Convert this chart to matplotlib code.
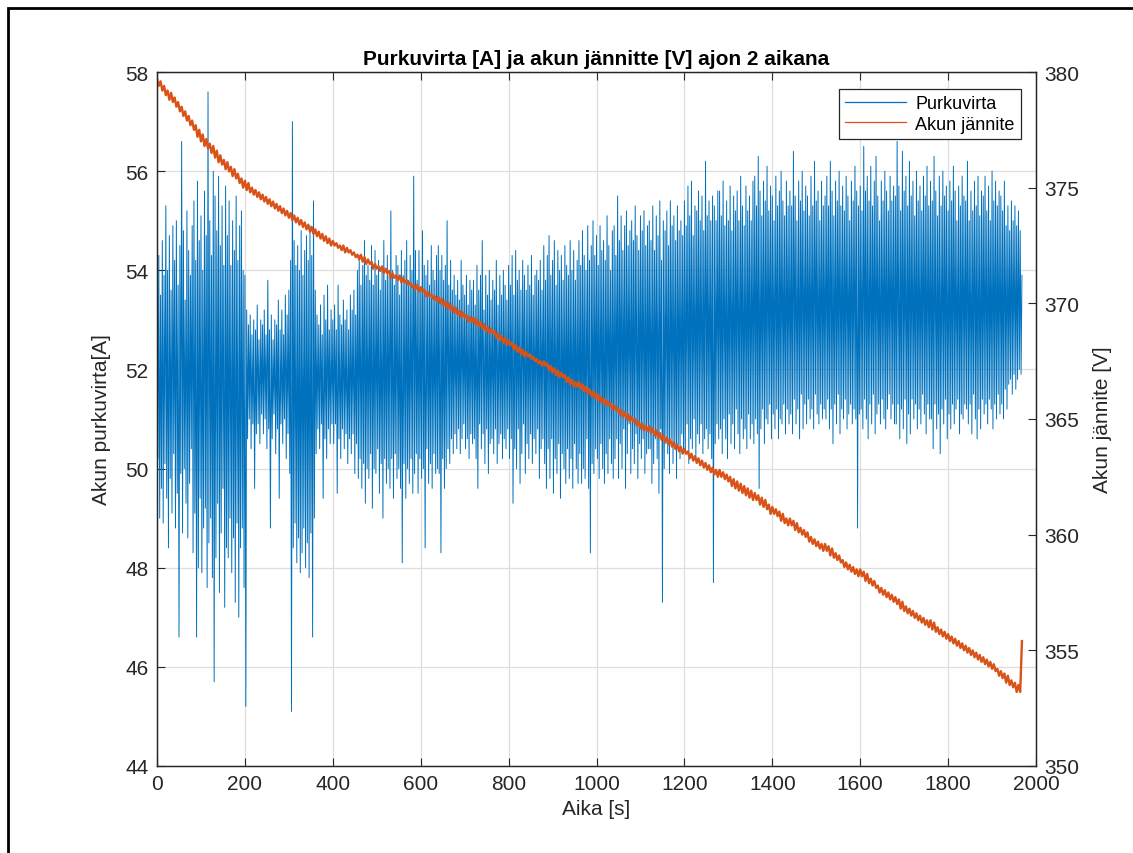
import numpy as np
import matplotlib.pyplot as plt
from matplotlib.patches import Rectangle

# current is logged every 2 s, voltage every 4 s
aika_virta = np.arange(0, 1970, 2)
aika_jannite = np.arange(0, 1972, 4)

# discharge current [A]
purkuvirta = [
    53.8, 50.2, 54.3, 49.0, 53.5, 49.6, 54.6, 48.9, 53.9, 50.1, 55.3, 49.4, 54.0, 48.4, 54.7, 49.8, 53.6, 49.1, 54.9, 50.3,
    54.2, 48.8, 55.0, 49.5, 53.7, 46.6, 54.5, 49.9, 56.6, 48.7, 54.8, 50.0, 53.4, 49.3, 55.2, 48.6, 54.4, 49.7, 53.9, 50.4,
    54.9, 48.3, 55.4, 49.1, 54.2, 46.6, 55.8, 48.0, 54.6, 49.4, 55.1, 47.9, 54.0, 48.8, 55.6, 49.2, 54.7, 47.6, 57.6, 48.5,
    55.0, 49.0, 54.3, 47.8, 56.0, 45.7, 55.5, 48.2, 54.8, 49.3, 55.9, 47.5, 54.5, 48.7, 55.3, 49.6, 54.1, 47.2, 55.7, 48.4,
    54.7, 48.2, 55.4, 49.0, 54.1, 47.9, 55.0, 48.6, 54.4, 47.3, 55.5, 48.9, 54.2, 47.0, 54.9, 48.4, 55.2, 48.8, 54.0, 47.6,
    53.9, 45.2, 53.2, 50.6, 52.9, 51.0, 53.1, 50.4, 52.7, 50.9, 53.0, 49.6, 52.8, 50.7, 53.3, 50.9, 52.6, 50.5, 53.0, 51.1,
    52.9, 50.7, 53.2, 51.0, 52.7, 50.4, 53.8, 50.8, 52.8, 48.8, 53.1, 50.6, 52.6, 51.1, 53.0, 50.3, 52.9, 50.8, 53.4, 49.4,
    52.8, 50.9, 53.2, 50.5, 52.7, 51.0, 53.5, 50.2, 53.1, 50.7, 53.6, 49.9, 54.2, 45.1, 57.0, 48.4, 54.6, 48.9, 54.1, 48.1,
    54.5, 48.6, 54.0, 47.9, 54.8, 48.3, 53.9, 48.8, 54.4, 48.0, 54.7, 48.5, 54.2, 47.8, 54.9, 48.7, 54.3, 46.6, 55.4, 49.0,
    53.6, 50.3, 53.1, 50.8, 52.9, 50.4, 53.3, 50.9, 52.7, 49.4, 53.5, 50.6, 53.0, 50.2, 53.7, 50.8, 52.8, 50.5, 53.2, 50.9,
    53.0, 50.5, 53.3, 50.9, 52.8, 49.5, 53.7, 50.6, 53.1, 50.2, 52.9, 50.8, 53.4, 50.4, 53.0, 50.7, 53.2, 50.1, 52.8, 50.6,
    53.5, 50.3, 53.2, 50.7, 53.6, 49.9, 53.1, 50.5, 54.0, 49.8, 54.3, 50.2, 53.7, 49.6, 54.1, 50.1, 54.6, 49.3, 53.9, 50.0,
    54.1, 49.8, 53.8, 50.3, 54.5, 49.2, 53.7, 50.0, 54.4, 49.9, 53.9, 50.4, 54.2, 49.5, 53.6, 50.1, 54.0, 49.0, 54.6, 50.2,
    53.8, 49.7, 54.3, 50.0, 53.9, 49.6, 55.2, 50.2, 54.0, 49.4, 53.7, 50.3, 54.3, 49.8, 54.1, 50.0, 53.5, 49.6, 54.4, 48.1,
    53.9, 50.1, 54.2, 49.4, 54.6, 50.0, 53.8, 49.7, 54.3, 50.2, 54.0, 49.5, 55.9, 49.9, 54.4, 50.3, 53.8, 49.5, 54.4, 50.2,
    53.6, 49.8, 54.8, 50.0, 54.1, 48.4, 53.9, 50.4, 54.2, 49.7, 53.7, 50.1, 54.5, 49.6, 54.0, 50.3, 53.8, 49.9, 54.3, 50.0,
    54.5, 49.9, 54.0, 48.3, 54.3, 50.2, 53.8, 49.6, 54.1, 50.0, 55.0, 50.4, 53.7, 50.1, 54.2, 50.6, 53.6, 50.3, 53.9, 50.7,
    53.5, 50.4, 53.8, 50.8, 53.4, 50.3, 54.2, 50.6, 53.7, 50.9, 53.5, 50.4, 53.9, 50.6, 53.3, 50.2, 53.8, 50.7, 53.6, 50.5,
    53.8, 50.6, 53.3, 50.2, 54.1, 49.6, 53.6, 50.9, 53.9, 50.4, 54.6, 50.7, 53.2, 50.1, 53.9, 50.8, 53.5, 49.9, 54.0, 50.5,
    53.4, 50.6, 53.8, 50.3, 53.6, 50.8, 54.2, 50.1, 53.3, 50.5, 53.9, 50.7, 53.5, 50.2, 54.0, 50.6, 53.7, 50.4, 53.4, 50.8,
    54.1, 50.2, 53.7, 50.6, 54.3, 49.3, 53.5, 50.4, 54.4, 50.0, 53.8, 50.8, 54.0, 49.7, 53.6, 50.3, 54.2, 50.9, 53.9, 49.9,
    53.6, 50.5, 54.1, 50.2, 53.7, 50.7, 54.3, 50.1, 53.5, 50.6, 53.9, 50.3, 54.0, 50.8, 53.8, 49.8, 54.2, 50.4, 53.6, 50.6,
    54.5, 50.1, 53.8, 49.6, 54.3, 50.4, 54.7, 49.8, 53.9, 50.6, 54.2, 49.5, 54.6, 50.2, 53.7, 49.9, 54.4, 50.5, 54.0, 49.4,
    54.3, 50.3, 53.8, 50.0, 54.5, 49.7, 54.1, 50.4, 53.9, 49.8, 54.6, 50.2, 54.0, 49.6, 54.4, 50.5, 53.8, 50.0, 54.2, 49.7,
    54.6, 50.3, 54.1, 49.7, 54.8, 50.0, 54.3, 49.8, 54.0, 50.6, 54.9, 49.6, 54.2, 48.3, 54.5, 50.1, 55.0, 49.9, 54.3, 50.4,
    54.7, 50.2, 54.1, 49.8, 54.9, 50.5, 54.4, 50.0, 54.6, 49.7, 54.2, 50.3, 55.1, 49.9, 54.5, 50.6, 54.0, 50.1, 54.8, 49.8,
    54.9, 50.2, 54.3, 50.6, 55.5, 49.8, 54.6, 50.5, 55.1, 50.0, 54.4, 50.8, 54.9, 49.6, 55.2, 50.3, 54.5, 50.9, 54.8, 49.9,
    55.0, 50.4, 54.6, 50.1, 55.3, 50.7, 54.7, 49.8, 54.4, 50.5, 55.1, 50.2, 54.8, 50.6, 55.2, 49.9, 54.5, 50.3, 54.9, 50.4,
    55.0, 50.4, 54.6, 49.7, 55.3, 50.1, 54.4, 50.6, 55.1, 50.2, 54.7, 49.5, 55.4, 50.8, 54.2, 47.3, 55.0, 50.0, 54.8, 50.5,
    55.2, 50.3, 54.5, 49.9, 55.4, 50.6, 54.9, 50.1, 55.1, 50.4, 54.6, 49.8, 55.3, 50.5, 54.8, 50.2, 55.0, 50.7, 54.7, 50.3,
    55.4, 50.3, 54.9, 50.9, 55.7, 50.1, 55.1, 50.6, 55.8, 50.4, 54.7, 51.0, 55.3, 50.2, 55.2, 50.7, 55.6, 50.5, 55.0, 50.9,
    55.5, 50.3, 54.8, 50.6, 56.2, 50.8, 55.1, 50.4, 55.4, 50.7, 55.0, 50.2, 55.5, 47.7, 55.3, 50.5, 55.0, 50.9, 55.6, 50.6,
    55.6, 50.8, 55.1, 50.3, 55.8, 51.0, 54.9, 50.6, 55.4, 50.2, 55.0, 51.1, 55.7, 50.5, 54.8, 50.9, 55.5, 50.4, 55.2, 51.2,
    55.6, 50.7, 55.0, 50.3, 55.9, 51.0, 55.3, 50.6, 54.9, 50.8, 55.7, 50.4, 55.2, 51.1, 55.5, 50.6, 55.0, 50.9, 55.8, 50.5,
    55.9, 51.0, 55.3, 50.7, 56.3, 49.6, 55.6, 50.8, 55.1, 51.2, 55.8, 50.5, 55.4, 51.0, 56.1, 50.9, 55.2, 51.3, 55.7, 50.6,
    55.5, 51.1, 55.0, 50.8, 55.9, 51.2, 55.3, 50.6, 55.6, 51.0, 56.0, 50.9, 55.4, 51.3, 55.1, 50.7, 55.8, 51.2, 55.3, 50.9,
    55.6, 51.1, 55.3, 50.7, 56.4, 51.4, 55.5, 50.9, 55.0, 51.2, 55.8, 50.6, 55.4, 51.5, 56.0, 50.8, 55.2, 51.3, 55.7, 50.9,
    55.5, 51.4, 55.1, 51.0, 55.9, 51.2, 55.3, 50.8, 56.2, 51.5, 55.4, 51.1, 55.6, 50.9, 55.0, 51.3, 55.8, 51.0, 55.3, 51.2,
    55.5, 51.0, 55.9, 51.4, 55.3, 50.8, 56.2, 51.2, 55.6, 50.5, 55.1, 51.3, 55.8, 50.9, 55.4, 51.5, 56.0, 50.7, 55.3, 51.2,
    55.7, 51.0, 55.2, 51.4, 55.9, 50.8, 55.5, 51.1, 55.0, 51.3, 55.8, 50.9, 55.4, 51.2, 56.1, 51.0, 55.6, 48.8, 55.3, 51.1,
    55.7, 51.2, 55.2, 50.8, 56.5, 51.4, 55.6, 51.0, 55.9, 50.6, 55.4, 51.3, 56.1, 50.9, 55.3, 51.5, 55.8, 50.7, 56.3, 51.1,
    55.5, 51.3, 55.0, 50.9, 55.8, 51.4, 55.4, 51.0, 56.0, 50.8, 55.6, 51.2, 55.2, 51.5, 55.9, 51.0, 55.4, 51.3, 55.7, 50.9,
    55.5, 50.9, 56.6, 51.3, 55.7, 50.6, 55.2, 51.2, 56.4, 50.8, 55.6, 51.4, 55.9, 50.5, 55.3, 51.1, 56.2, 50.7, 55.5, 51.4,
    55.8, 51.0, 55.1, 51.3, 56.0, 50.8, 55.4, 51.2, 55.7, 50.9, 55.2, 51.5, 55.9, 51.1, 55.5, 50.7, 56.1, 51.3, 55.3, 51.0,
    55.8, 51.0, 55.4, 50.4, 56.3, 51.3, 55.6, 50.8, 55.1, 51.1, 55.9, 50.3, 55.3, 51.2, 56.0, 50.9, 55.5, 51.4, 55.7, 50.6,
    55.2, 51.1, 55.8, 50.8, 55.4, 51.3, 56.1, 50.9, 55.6, 51.2, 55.0, 51.4, 55.7, 50.7, 55.3, 51.1, 55.9, 51.0, 55.5, 51.3,
    55.4, 51.2, 56.2, 50.9, 55.0, 51.3, 55.6, 50.7, 55.2, 51.5, 55.8, 51.0, 55.3, 50.6, 55.9, 51.2, 55.1, 50.8, 55.6, 51.4,
    55.5, 51.1, 55.9, 51.3, 55.2, 50.9, 55.7, 51.4, 55.0, 51.2, 56.0, 50.8, 55.4, 51.3, 55.8, 51.0, 55.3, 51.5, 55.6, 51.1,
    55.5, 51.3, 55.2, 51.0, 55.8, 51.6, 54.9, 51.2, 55.3, 51.7, 54.8, 51.8, 55.4, 51.5, 55.0, 51.9, 55.3, 51.6, 54.9, 51.8,
    55.2, 52.0, 54.8, 51.9, 53.9,
]

# battery voltage [V]
jannite = [
    379.7, 379.4, 379.6, 379.2, 379.4, 379.0, 379.2, 378.8, 379.1, 378.7, 378.9, 378.5, 378.7, 378.3, 378.5, 378.1, 378.3, 377.9, 378.1, 377.7,
    377.9, 377.5, 377.7, 377.2, 377.5, 377.0, 377.3, 376.8, 377.1, 376.7, 376.9, 376.5, 376.8, 376.3, 376.6, 376.1, 376.4, 376.0, 376.2, 375.8,
    376.1, 375.7, 375.9, 375.5, 375.8, 375.4, 375.6, 375.2, 375.4, 375.0, 375.3, 374.9, 375.2, 374.8, 375.0, 374.7, 374.9, 374.6, 374.8, 374.5,
    374.7, 374.4, 374.6, 374.3, 374.5, 374.2, 374.4, 374.1, 374.3, 374.0, 374.2, 373.9, 374.1, 373.8, 374.0, 373.7, 373.9, 373.6, 373.8, 373.5,
    373.7, 373.4, 373.6, 373.3, 373.5, 373.2, 373.4, 373.1, 373.3, 373.0, 373.2, 372.9, 373.1, 372.8, 373.0, 372.7, 372.9, 372.6, 372.8, 372.5,
    372.7, 372.5, 372.6, 372.4, 372.5, 372.3, 372.5, 372.2, 372.4, 372.2, 372.3, 372.1, 372.2, 372.0, 372.1, 371.9, 372.1, 371.8, 372.0, 371.7,
    371.9, 371.7, 371.8, 371.5, 371.7, 371.5, 371.6, 371.4, 371.6, 371.3, 371.5, 371.3, 371.4, 371.1, 371.3, 371.1, 371.2, 371.0, 371.2, 370.9,
    371.1, 370.9, 371.0, 370.8, 370.9, 370.7, 370.8, 370.6, 370.8, 370.5, 370.7, 370.5, 370.6, 370.3, 370.5, 370.3, 370.4, 370.2, 370.3, 370.1,
    370.3, 370.0, 370.2, 369.9, 370.1, 369.8, 370.0, 369.7, 369.9, 369.6, 369.8, 369.5, 369.7, 369.4, 369.6, 369.4, 369.5, 369.2, 369.4, 369.2,
    369.4, 369.1, 369.3, 369.0, 369.2, 368.9, 369.1, 368.8, 369.0, 368.7, 368.9, 368.7, 368.8, 368.5, 368.7, 368.4, 368.6, 368.3, 368.5, 368.2,
    368.4, 368.2, 368.3, 368.0, 368.2, 367.9, 368.1, 367.8, 368.0, 367.7, 367.9, 367.7, 367.8, 367.6, 367.7, 367.5, 367.6, 367.4, 367.5, 367.3,
    367.5, 367.3, 367.4, 367.1, 367.3, 367.0, 367.2, 366.9, 367.1, 366.8, 367.0, 366.8, 366.9, 366.6, 366.8, 366.5, 366.7, 366.4, 366.6, 366.4,
    366.6, 366.3, 366.5, 366.2, 366.4, 366.1, 366.3, 366.0, 366.2, 365.9, 366.1, 365.8, 366.0, 365.7, 365.9, 365.6, 365.8, 365.6, 365.7, 365.4,
    365.6, 365.4, 365.5, 365.2, 365.4, 365.1, 365.3, 365.0, 365.2, 364.9, 365.1, 364.9, 365.0, 364.7, 364.9, 364.6, 364.8, 364.5, 364.7, 364.5,
    364.7, 364.4, 364.6, 364.3, 364.5, 364.2, 364.4, 364.1, 364.3, 364.0, 364.2, 363.9, 364.1, 363.8, 364.0, 363.7, 363.9, 363.6, 363.8, 363.5,
    363.7, 363.5, 363.6, 363.3, 363.5, 363.2, 363.4, 363.1, 363.3, 363.0, 363.2, 362.9, 363.1, 362.8, 363.0, 362.7, 362.9, 362.6, 362.8, 362.5,
    362.8, 362.5, 362.7, 362.4, 362.6, 362.3, 362.5, 362.1, 362.4, 362.0, 362.3, 361.9, 362.2, 361.8, 362.1, 361.7, 362.0, 361.6, 361.9, 361.5,
    361.8, 361.5, 361.7, 361.3, 361.6, 361.2, 361.5, 361.1, 361.3, 360.9, 361.2, 360.9, 361.1, 360.8, 361.0, 360.6, 360.9, 360.5, 360.7, 360.4,
    360.7, 360.4, 360.6, 360.2, 360.5, 360.1, 360.3, 360.0, 360.2, 359.9, 360.1, 359.7, 359.9, 359.6, 359.8, 359.5, 359.7, 359.4, 359.6, 359.3,
    359.6, 359.3, 359.5, 359.1, 359.4, 359.0, 359.2, 358.9, 359.1, 358.8, 358.9, 358.6, 358.8, 358.5, 358.7, 358.4, 358.6, 358.3, 358.5, 358.2,
    358.5, 358.2, 358.4, 358.0, 358.3, 357.9, 358.1, 357.8, 358.0, 357.7, 357.8, 357.5, 357.7, 357.4, 357.6, 357.3, 357.5, 357.2, 357.4, 357.1,
    357.3, 357.0, 357.2, 356.8, 357.1, 356.7, 356.9, 356.6, 356.8, 356.5, 356.7, 356.4, 356.6, 356.3, 356.5, 356.2, 356.4, 356.1, 356.3, 356.0,
    356.3, 355.9, 356.2, 355.8, 356.0, 355.7, 355.9, 355.6, 355.8, 355.5, 355.7, 355.4, 355.6, 355.3, 355.5, 355.2, 355.4, 355.1, 355.3, 355.0,
    355.2, 354.9, 355.1, 354.8, 355.0, 354.7, 354.9, 354.6, 354.8, 354.5, 354.7, 354.4, 354.6, 354.3, 354.5, 354.2, 354.4, 354.1, 354.2, 353.9,
    354.1, 353.8, 354.0, 353.6, 353.9, 353.5, 353.7, 353.4, 353.6, 353.2, 353.5, 353.2, 355.4,
]

x_ticks = [0, 200, 400, 600, 800, 1000, 1200, 1400, 1600, 1800, 2000]
left_ticks = [44, 46, 48, 50, 52, 54, 56, 58]
right_ticks = [350, 355, 360, 365, 370, 375, 380]

blue = '#0072BD'
orange = '#D95319'
dark = '#262626'

plt.rcParams['font.family'] = ['Liberation Sans', 'DejaVu Sans']

fig = plt.figure(figsize=(11.33, 8.54), dpi=100)
ax = fig.add_axes([0.1386, 0.1019, 0.7758, 0.8126])
ax2 = ax.twinx()

l1, = ax.plot(aika_virta, purkuvirta, color=blue, lw=0.7, label='Purkuvirta')
l2, = ax2.plot(aika_jannite, jannite, color=orange, lw=1.7, label='Akun jännite')

ax.set_xlim(0, 2000)
ax.set_ylim(44, 58)
ax2.set_ylim(350, 380)
ax.set_xticks(x_ticks)
ax.set_yticks(left_ticks)
ax2.set_yticks(right_ticks)

ax.grid(True, color='#dedede', lw=0.9)
ax.set_axisbelow(True)

ax.tick_params(axis='x', direction='in', top=True, length=6, width=0.8,
               labelsize=15, colors=dark, pad=6)
ax.tick_params(axis='y', direction='in', length=6, width=0.8,
               labelsize=15, colors=dark, pad=6)
ax2.tick_params(axis='y', direction='in', length=6, width=0.8,
                labelsize=15, colors=dark, pad=6)
for a in (ax, ax2):
    for s in a.spines.values():
        s.set_color(dark)
        s.set_linewidth(0.9)

ax.set_xlabel('Aika [s]', fontsize=15, color=dark, labelpad=4)
ax.set_ylabel('Akun purkuvirta[A]', fontsize=15, color=dark, labelpad=10)
ax2.set_ylabel('Akun jännite [V]', fontsize=15, color=dark, labelpad=10)
ax.set_title('Purkuvirta [A] ja akun jännitte [V] ajon 2 aikana',
             fontsize=15, fontweight='bold', color='black', pad=6)

leg = ax2.legend([l1, l2], ['Purkuvirta', 'Akun jännite'], loc='upper right',
                 bbox_to_anchor=(0.983, 0.976), fontsize=13, frameon=True,
                 fancybox=False, edgecolor=dark, framealpha=1,
                 handlelength=3.4, handletextpad=0.5, borderpad=0.35,
                 labelspacing=0.2, borderaxespad=0)
leg.get_frame().set_linewidth(0.9)
for h in leg.legend_handles:
    h.set_linewidth(0.9)

# outer frame around the figure
fig.add_artist(Rectangle((8 / 1133, -0.2), 1.2, 1.2 - 9 / 854,
                         transform=fig.transFigure, fill=False,
                         edgecolor='black', lw=2))

fig.savefig('out.png', dpi=100)
